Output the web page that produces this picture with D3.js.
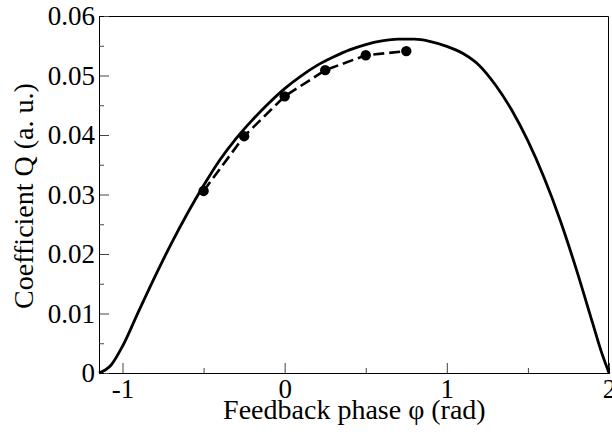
<!DOCTYPE html>
<html>
<head>
<meta charset="utf-8">
<script src="https://cdn.jsdelivr.net/npm/d3@7"></script>
<style>
  body { margin: 0; background: #fff; }
  text { font-family: "Liberation Serif", "DejaVu Serif", serif; }
</style>
</head>
<body>
<div id="chart"></div>
<script>
// solid curve (theory)
var phaseCurve = [-1.145, -1.07, -1.0, -0.9, -0.8, -0.7, -0.6, -0.5, -0.4, -0.3, -0.2, -0.1, 0, 0.1, 0.2, 0.3, 0.4, 0.5, 0.6, 0.7, 0.8, 0.9, 1.0, 1.1, 1.2, 1.3, 1.4, 1.5, 1.6, 1.7, 1.8, 1.9, 1.95, 2.0];
var qCurve = [0, 0.00135, 0.0045, 0.0104, 0.0162, 0.0217, 0.0268, 0.0315, 0.0358, 0.0394, 0.0425, 0.0453, 0.0478, 0.0499, 0.0517, 0.0531, 0.0543, 0.0552, 0.0558, 0.0561, 0.0561, 0.0557, 0.0549, 0.0537, 0.0517, 0.0484, 0.0442, 0.0390, 0.0328, 0.0256, 0.0173, 0.0083, 0.0038, 0];

// dashed line with dots
var phasePoints = [-0.5, -0.25, 0, 0.25, 0.5, 0.75];
var qPoints = [0.0306, 0.0398, 0.0465, 0.0509, 0.0534, 0.0541];

var xMajor = [-1, 0, 1, 2];
var xMinor = [-0.5, 0.5, 1.5];
var yMajor = [0, 0.01, 0.02, 0.03, 0.04, 0.05, 0.06];
var yMinor = [0.005, 0.015, 0.025, 0.035, 0.045, 0.055];

var svgWidth = 612;
var svgHeight = 434;

var margin = { top: 16, right: 3, bottom: 61, left: 99 };
var width = svgWidth - margin.left - margin.right;
var height = svgHeight - margin.top - margin.bottom;

var svg = d3.select("#chart")
  .append("svg")
  .attr("width", svgWidth)
  .attr("height", svgHeight);

var chartGroup = svg.append("g")
  .attr("transform", `translate(${margin.left}, ${margin.top})`);

var xScale = d3.scaleLinear().domain([-1.145, 2]).range([0, width]);
var yScale = d3.scaleLinear().domain([0, 0.06]).range([height, 0]);

// frame (top and right)
chartGroup.append("path")
  .attr("d", `M0,0.5H${width - 0.5}V${height}`)
  .attr("fill", "none")
  .attr("stroke", "#000")
  .attr("stroke-width", 1);

// axes, ticks pointing inside
var bottomAxis = d3.axisBottom(xScale)
  .tickValues(xMajor)
  .tickSize(-10)
  .tickPadding(9)
  .tickFormat(d => d < 0 ? "-" + Math.abs(d) : String(d));
var bottomMinor = d3.axisBottom(xScale).tickValues(xMinor).tickSize(-5).tickFormat("");

var leftAxis = d3.axisLeft(yScale)
  .tickValues(yMajor)
  .tickSize(-10)
  .tickPadding(4)
  .tickFormat(d => d === 0 ? "0" : d.toFixed(2));
var leftMinor = d3.axisLeft(yScale).tickValues(yMinor).tickSize(-5).tickFormat("");

var xAxis = chartGroup.append("g")
  .attr("transform", `translate(0, ${height})`)
  .call(bottomAxis);
chartGroup.append("g")
  .attr("transform", `translate(0, ${height})`)
  .call(bottomMinor);

var yAxis = chartGroup.append("g").call(leftAxis);
chartGroup.append("g").call(leftMinor);

chartGroup.selectAll(".domain").attr("stroke", "#000");
chartGroup.selectAll(".tick line").attr("stroke", "#444");
chartGroup.selectAll(".tick text")
  .attr("fill", "#000")
  .style("font-size", "27px");
xAxis.selectAll(".tick text").attr("dy", "0.6em");

// solid curve
var curveData = phaseCurve.map((p, i) => ({ x: p, y: qCurve[i] }));
var solidLine = d3.line()
  .x(d => xScale(d.x))
  .y(d => yScale(d.y))
  .curve(d3.curveMonotoneX);

chartGroup.append("path")
  .datum(curveData)
  .attr("d", solidLine)
  .attr("fill", "none")
  .attr("stroke", "#000")
  .attr("stroke-width", 2.8);

// dashed line with points
var pointData = phasePoints.map((p, i) => ({ x: p, y: qPoints[i] }));
var dashLine = d3.line()
  .x(d => xScale(d.x))
  .y(d => yScale(d.y));

chartGroup.append("path")
  .datum(pointData)
  .attr("d", dashLine)
  .attr("fill", "none")
  .attr("stroke", "#000")
  .attr("stroke-width", 2.6)
  .attr("stroke-dasharray", "11,5");

chartGroup.selectAll("circle")
  .data(pointData)
  .enter()
  .append("circle")
  .attr("cx", d => xScale(d.x))
  .attr("cy", d => yScale(d.y))
  .attr("r", 5.2)
  .attr("fill", "#000");

// axis titles
svg.append("text")
  .attr("x", margin.left + xScale(0.43))
  .attr("y", 419)
  .attr("text-anchor", "middle")
  .style("font-size", "28px")
  .text("Feedback phase φ (rad)");

svg.append("text")
  .attr("transform", `translate(33, 196) rotate(-90)`)
  .attr("text-anchor", "middle")
  .style("font-size", "28px")
  .text("Coefficient Q (a. u.)");
</script>
</body>
</html>
